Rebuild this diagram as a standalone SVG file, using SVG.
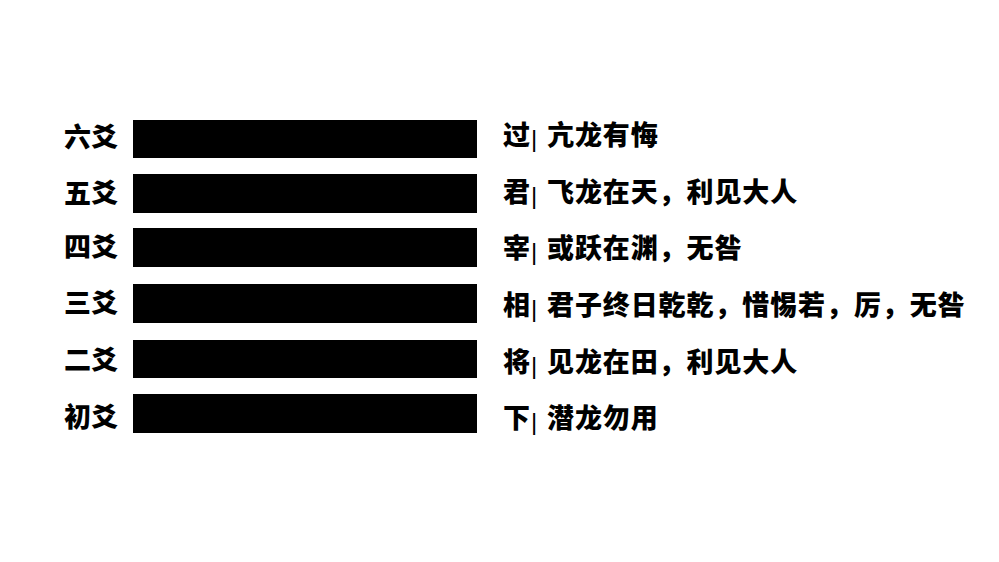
<svg xmlns="http://www.w3.org/2000/svg" width="999" height="562" viewBox="0 0 999 562">
<style>
.lbl{font-family:"Noto Sans CJK SC","Noto Sans",sans-serif;font-weight:900;font-size:27px;fill:#000}
.txt{font-family:"Noto Sans CJK SC","Noto Sans",sans-serif;font-weight:900;font-size:27px;fill:#000;letter-spacing:0.9px}
.sep{font-family:"Liberation Sans",sans-serif;font-weight:400;font-size:24px;fill:#000;letter-spacing:0}
.bar{fill:#000}
</style>
<rect width="999" height="562" fill="#fff"/>
<g id="row6">
<text class="lbl" x="64" y="147">六爻</text>
<rect class="bar" x="133" y="120" width="344" height="38"/>
<text class="txt" x="503" y="145">过<tspan class="sep" x="531" y="147">|</tspan><tspan x="547" y="145">亢龙有悔</tspan></text>
</g>
<g id="row5">
<text class="lbl" x="64" y="203">五爻</text>
<rect class="bar" x="133" y="174" width="344" height="39"/>
<text class="txt" x="503" y="202">君<tspan class="sep" x="531" y="204">|</tspan><tspan x="547" y="202">飞龙在天，利见大人</tspan></text>
</g>
<g id="row4">
<text class="lbl" x="64" y="257">四爻</text>
<rect class="bar" x="133" y="228" width="344" height="39"/>
<text class="txt" x="503" y="258">宰<tspan class="sep" x="531" y="260">|</tspan><tspan x="547" y="258">或跃在渊，无咎</tspan></text>
</g>
<g id="row3">
<text class="lbl" x="64" y="313">三爻</text>
<rect class="bar" x="133" y="284" width="344" height="39"/>
<text class="txt" x="503" y="315">相<tspan class="sep" x="531" y="317">|</tspan><tspan x="547" y="315">君子终日乾乾，惜惕若，厉，无咎</tspan></text>
</g>
<g id="row2">
<text class="lbl" x="64" y="370">二爻</text>
<rect class="bar" x="133" y="340" width="344" height="38"/>
<text class="txt" x="503" y="372">将<tspan class="sep" x="531" y="374">|</tspan><tspan x="547" y="372">见龙在田，利见大人</tspan></text>
</g>
<g id="row1">
<text class="lbl" x="64" y="427">初爻</text>
<rect class="bar" x="133" y="394" width="344" height="39"/>
<text class="txt" x="503" y="428">下<tspan class="sep" x="531" y="430">|</tspan><tspan x="547" y="428">潜龙勿用</tspan></text>
</g>
<g id="connectors"/>
</svg>
